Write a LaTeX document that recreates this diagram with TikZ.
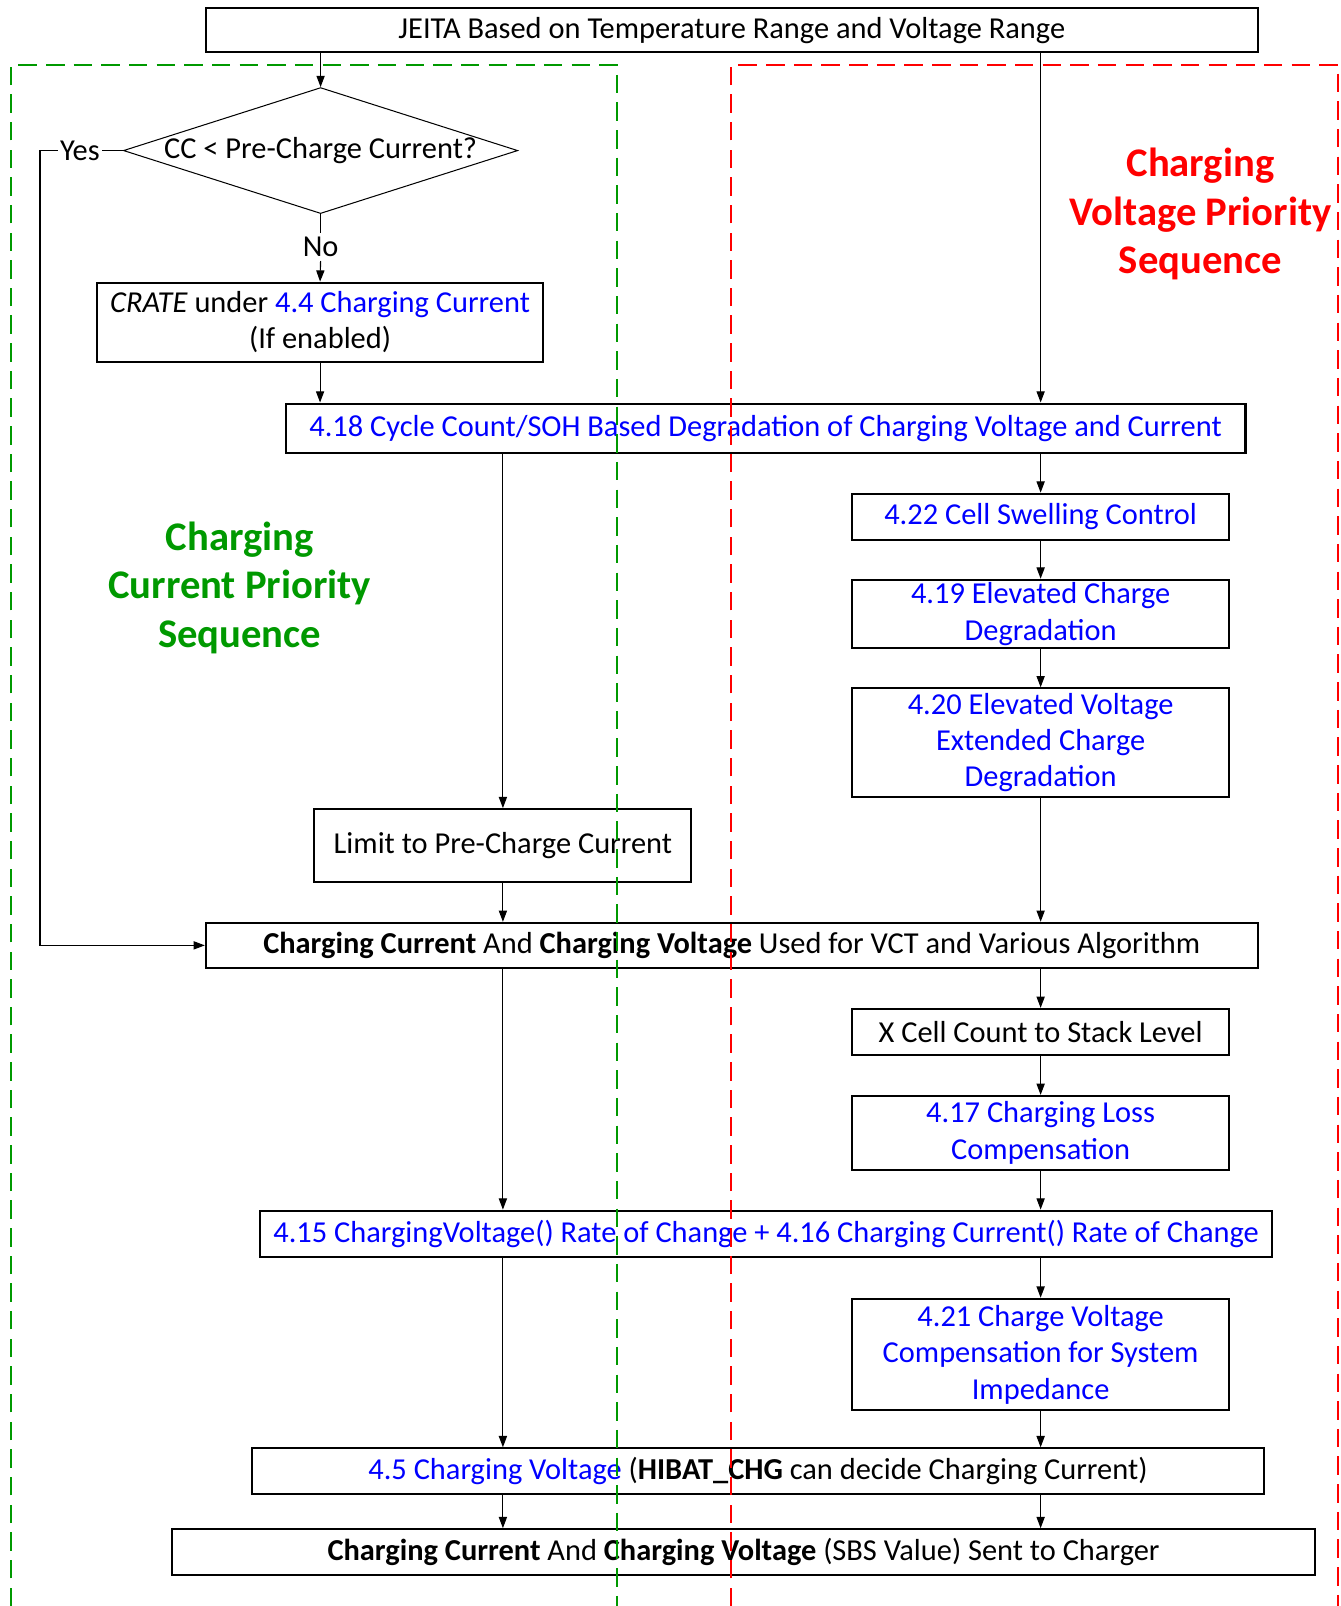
\documentclass[tikz,border=0pt]{standalone}
\usepackage{fontspec}
\setmainfont{Carlito}
\usetikzlibrary{arrows.meta,shapes.geometric}
\definecolor{lnkblue}{RGB}{0,0,255}
\definecolor{grn}{RGB}{0,153,0}
\definecolor{rd}{RGB}{255,0,0}
\begin{document}
\begin{tikzpicture}[x=1pt,y=-1pt,
 txt/.style={font=\fontsize{29.7}{35.5}\selectfont},
 box/.style={draw, line width=2pt, fill=white, align=center, inner sep=0pt, txt},
 conn/.style={line width=1.1pt, -{Triangle[length=11pt,width=8pt]}},
 ln/.style={line width=1.1pt},
 big/.style={font=\fontsize{39.7}{47.5}\selectfont\bfseries, align=center},
 grpline/.style={line width=2pt, dash pattern=on 18pt off 9pt}]
\useasboundingbox (0,0) rectangle (1309,1568);
\coordinate (colL) at (491,0);
\coordinate (colR) at (1016,0);
\coordinate (ylx) at (39,0);

\node[box, minimum width=1027pt, minimum height=43pt] (jeita) at (714.5,29.5) {JEITA Based on Temperature Range and Voltage Range};
\node[diamond, draw, line width=1pt, inner sep=0pt, minimum width=385pt, minimum height=123pt, txt] (dia) at (313,147) {};
\node[txt] at (dia.center) {CC < Pre-Charge Current?};
\node[txt, inner sep=2pt] (yes) at (78,147) {Yes};
\node[txt, inner sep=4pt] (no) at (313,241) {No};
\node[box, minimum width=435pt, minimum height=77pt] (crate) at (312.5,314.5) {\textit{CRATE} under \textcolor{lnkblue}{4.4 Charging Current}\\(If enabled)};
\node[box, text=lnkblue, minimum width=937pt, minimum height=48pt] (n418) at (747.5,418) {4.18 Cycle Count/SOH Based Degradation of Charging Voltage and Current};
\node[box, minimum width=368pt, minimum height=71pt] (limit) at (491,825.5) {Limit to Pre-Charge Current};
\node[box, text=lnkblue, minimum width=368pt, minimum height=45pt] (n422) at (1016,504.5) {4.22 Cell Swelling Control};
\node[box, text=lnkblue, minimum width=368pt, minimum height=67pt] (n419) at (1016,599.5) {4.19 Elevated Charge\\Degradation};
\node[box, text=lnkblue, minimum width=368pt, minimum height=106pt] (n420) at (1016,725) {4.20 Elevated Voltage\\Extended Charge\\Degradation};
\node[box, minimum width=1027pt, minimum height=44pt] (ccav) at (714.5,923) {\textbf{Charging Current} And \textbf{Charging Voltage} Used for VCT and Various Algorithm};
\node[box, minimum width=368pt, minimum height=45pt] (xcell) at (1016,1007.5) {X Cell Count to Stack Level};
\node[box, text=lnkblue, minimum width=368pt, minimum height=72pt] (n417) at (1016,1106) {4.17 Charging Loss\\Compensation};
\node[box, text=lnkblue, minimum width=988pt, minimum height=45pt] (n415) at (748,1204.5) {4.15 ChargingVoltage() Rate of Change + 4.16 Charging Current() Rate of Change};
\node[box, text=lnkblue, minimum width=368pt, minimum height=109pt] (n421) at (1016,1322.5) {4.21 Charge Voltage\\Compensation for System\\Impedance};
\node[box, minimum width=988pt, minimum height=45pt] (n45) at (740,1436.5) {\textcolor{lnkblue}{4.5 Charging Voltage} (\textbf{HIBAT\_CHG} can decide Charging Current)};
\node[box, minimum width=1116pt, minimum height=45pt] (final) at (726,1515.5) {\textbf{Charging Current} And \textbf{Charging Voltage} (SBS Value) Sent to Charger};

\node[big, text=grn] (glabel) at (234,574) {Charging\\Current Priority\\Sequence};
\node[big, text=rd] (rlabel) at (1172,209) {Charging\\Voltage Priority\\Sequence};

\draw[conn] (jeita.south -| dia.north) -- (dia.north);
\draw[conn] (jeita.south -| colR) -- (n418.north -| colR);
\draw[ln] (dia.south) -- (no.north);
\draw[conn] (no.south) -- (crate.north);
\draw[ln] (dia.west) -- (yes.east);
\draw[conn] (yes.west) -- (yes.west -| ylx) -- (ccav.west -| ylx) -- (ccav.west);
\draw[conn] (crate.south) -- (n418.north -| crate.south);
\draw[conn] (n418.south -| colL) -- (limit.north);
\draw[conn] (limit.south) -- (ccav.north -| limit.south);
\draw[conn] (n418.south -| colR) -- (n422.north);
\draw[conn] (n422.south) -- (n419.north);
\draw[conn] (n419.south) -- (n420.north);
\draw[conn] (n420.south) -- (ccav.north -| n420.south);
\draw[conn] (ccav.south -| colL) -- (n415.north -| colL);
\draw[conn] (ccav.south -| colR) -- (xcell.north);
\draw[conn] (xcell.south) -- (n417.north);
\draw[conn] (n417.south) -- (n415.north -| colR);
\draw[conn] (n415.south -| colR) -- (n421.north);
\draw[conn] (n415.south -| colL) -- (n45.north -| colL);
\draw[conn] (n421.south) -- (n45.north -| colR);
\draw[conn] (n45.south -| colL) -- (final.north -| colL);
\draw[conn] (n45.south -| colR) -- (final.north -| colR);

\draw[grpline, grn] (11,1568) -- (11,63) -- (602,63) -- (602,1568);
\draw[grpline, rd] (714,1568) -- (714,63) -- (1306,63) -- (1306,1568);
\end{tikzpicture}
\end{document}
